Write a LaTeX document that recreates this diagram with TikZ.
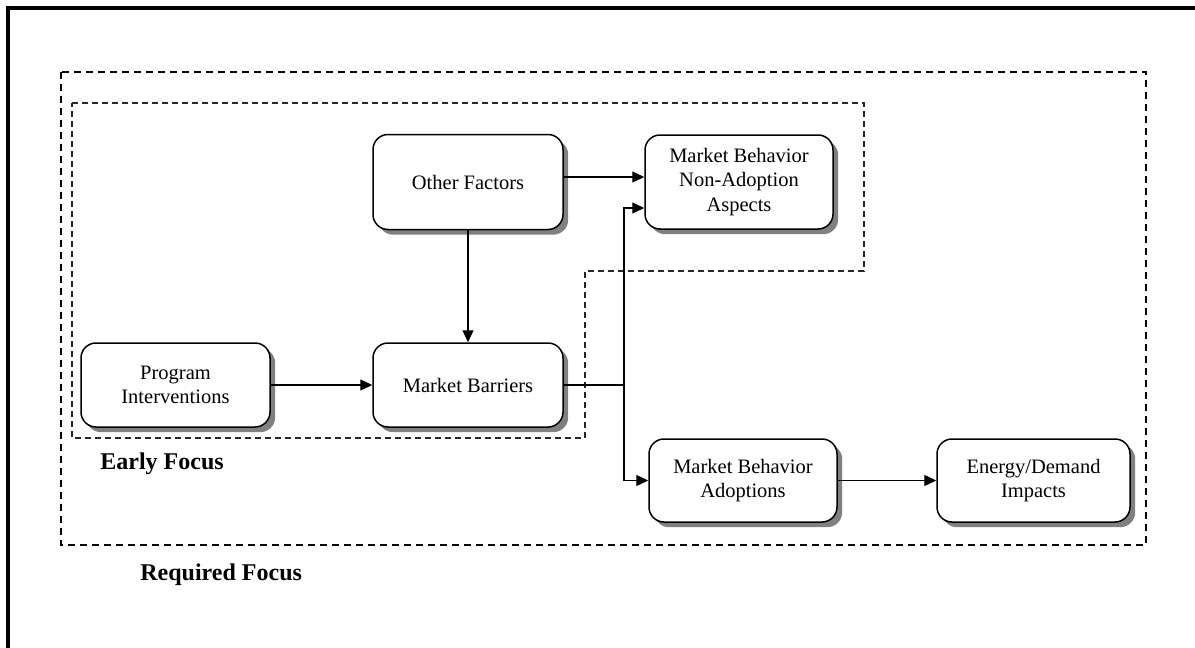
\documentclass[tikz,border=0pt]{standalone}
\usepackage{fontspec}
\setmainfont{Liberation Serif}
\usetikzlibrary{shadows,arrows.meta,calc}
\begin{document}
\begin{tikzpicture}[x=0.5pt,y=-0.5pt,
  box/.style={draw, line width=0.75pt, rounded corners=7.5pt, fill=white, align=center,
    font=\fontsize{10.25}{12.25}\selectfont, inner sep=0pt,
    drop shadow={shadow xshift=2.6pt, shadow yshift=-2.6pt, fill=black!50, opacity=1}},
  arr/.style={-{Triangle[length=6pt,width=5.5pt]}, line width=0.65pt},
  ln/.style={line width=0.65pt},
  reqbox/.style={line width=1pt, dash pattern=on 3.5pt off 2.5pt},
  earlybox/.style={line width=0.55pt, dash pattern=on 3pt off 2pt, black!85},
  lbl/.style={font=\fontsize{12}{14}\selectfont\bfseries, anchor=base west, inner sep=0pt}]
\useasboundingbox (0,0) rectangle (1195,648);
% frame
\draw[line width=2pt] (8,648) -- (8,7.5) -- (1195,7.5);
% focus regions
\draw[reqbox] (61,72) rectangle (1146,545);
\draw[earlybox] (72,103) -- (864,103) -- (864,271) -- (585,271) -- (585,438) -- (72,438) -- cycle;
% nodes
\node[box, minimum width=95pt, minimum height=47.5pt] (other) at (468,182) {Other Factors};
\node[box, minimum width=94pt, minimum height=47pt] (mbna) at (739,182) {Market Behavior\\Non-Adoption\\Aspects};
\node[box, minimum width=94.5pt, minimum height=42pt] (prog) at (175.5,385) {Program\\Interventions};
\node[box, minimum width=95pt, minimum height=42pt] (barriers) at (468,385) {Market Barriers};
\node[box, minimum width=94pt, minimum height=41.5pt] (mba) at (743,480.5) {Market Behavior\\Adoptions};
\node[box, minimum width=96.5pt, minimum height=41.5pt] (energy) at (1033.5,480.5) {Energy/Demand\\Impacts};
% connectors
\coordinate (j) at (624,385);
\draw[arr] ($(other.east)+(0,-5)$) -- ($(mbna.west)+(0,-5)$);
\draw[arr] (other.south) -- (barriers.north);
\draw[arr] (prog.east) -- (barriers.west);
\draw[ln] (barriers.east) -- (j);
\draw[arr] (j) |- ($(mbna.west)+(0,26)$);
\draw[arr] (j) |- (mba.west);
\draw[arr] (mba.east) -- (energy.west);
% labels
\node[lbl] (early) at (100,469) {Early Focus};
\node[lbl] (req) at (140,580) {Required Focus};
\end{tikzpicture}
\end{document}
